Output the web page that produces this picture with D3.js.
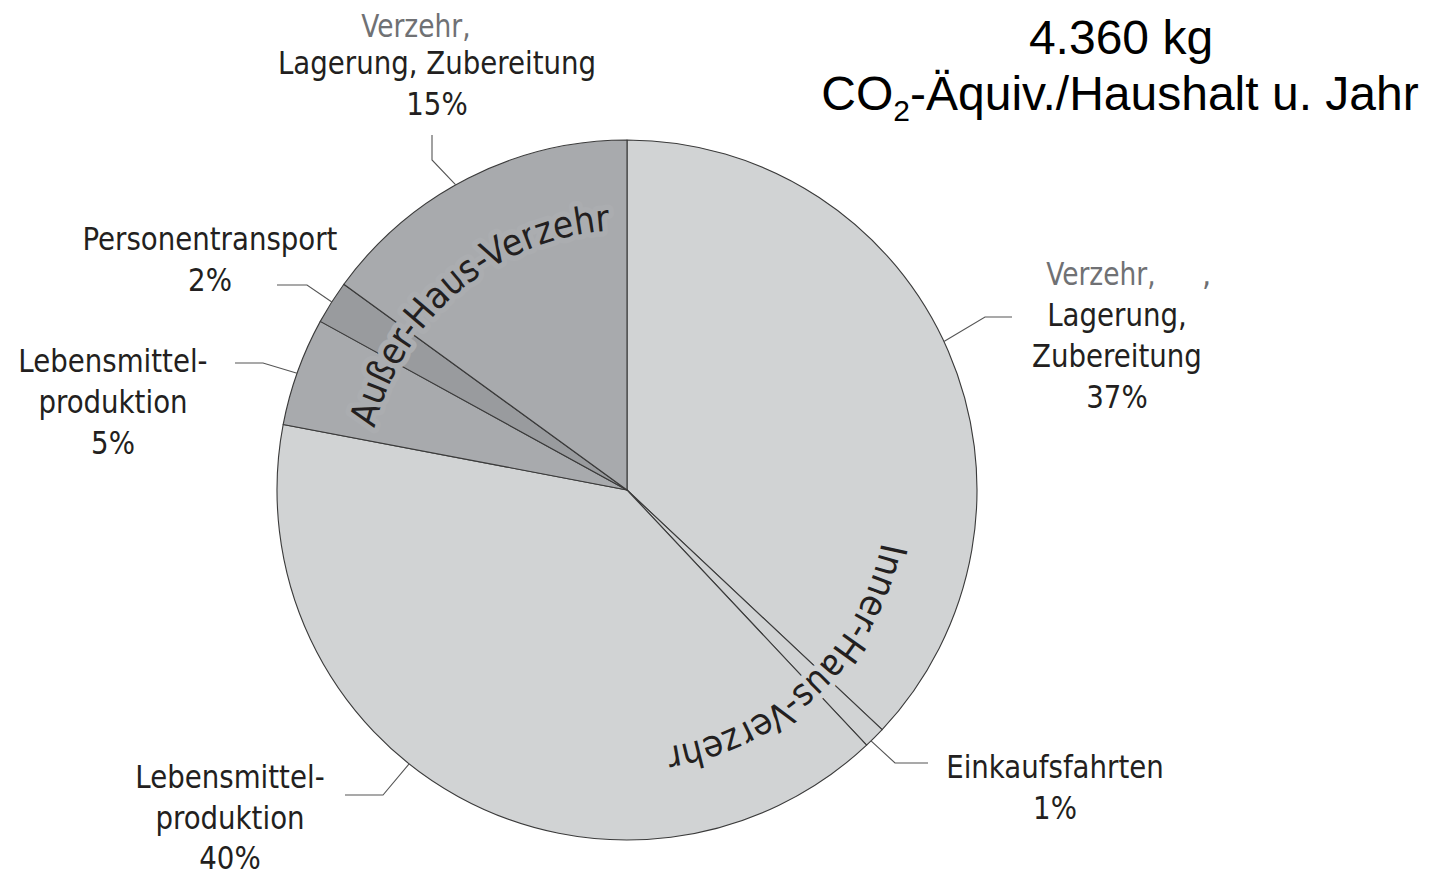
<!DOCTYPE html>
<html>
<head>
<meta charset="utf-8">
<script src="https://cdn.jsdelivr.net/npm/d3@7/dist/d3.min.js"></script>
<style>
  html, body { margin: 0; padding: 0; background: #fff; }
  svg { display: block; }
</style>
</head>
<body>
<svg id="chart" width="1438" height="875"></svg>
<script>
// ---- data ----
const categories = [
  "Verzehr, Lagerung, Zubereitung",
  "Einkaufsfahrten",
  "Lebensmittelproduktion",
  "Lebensmittelproduktion",
  "Personentransport",
  "Verzehr, Lagerung, Zubereitung"
];
const values = [37, 1, 40, 5, 2, 15];
const groupOf = ["Inner", "Inner", "Inner", "Außer", "Außer", "Außer"];
const groupNames = ["Inner-Haus-Verzehr", "Außer-Haus-Verzehr"];
const groupKeys = ["Inner", "Außer"];
const titleLines = ["4.360 kg", "CO|2|-Äquiv./Haushalt u. Jahr"];

// ---- layout ----
const W = 1438, H = 875;
const cx = 627, cy = 490, R = 350;
const fillFor = (i) => i === 4 ? "#999b9e" : (groupOf[i] === "Außer" ? "#a8aaad" : "#d1d3d4");
const labelFont = "'Liberation Sans Narrow', 'DejaVu Sans Condensed', 'Roboto Condensed', 'Liberation Sans', sans-serif";

const svg = d3.select("#chart");
const g = svg.append("g").attr("transform", `translate(${cx},${cy})`);

const pie = d3.pie().sort(null).value(d => d);
const arcs = pie(values);
const arcGen = d3.arc().innerRadius(0).outerRadius(R);

g.selectAll("path.slice")
  .data(arcs)
  .join("path")
  .attr("class", "slice")
  .attr("d", arcGen)
  .attr("fill", (d, i) => fillFor(i))
  .attr("stroke", "#3a3a3a")
  .attr("stroke-width", 1.1)
  .attr("stroke-linejoin", "round");

// ---- curved group labels ----
const textR = 260;
function arcPathClockwise(a0, a1, r) {
  const p0 = [r * Math.sin(a0), -r * Math.cos(a0)];
  const p1 = [r * Math.sin(a1), -r * Math.cos(a1)];
  return `M${p0[0]},${p0[1]} A${r},${r} 0 0 1 ${p1[0]},${p1[1]}`;
}
const deg = Math.PI / 180;
const groupMid = { Inner: 136.5, "Außer": 320 };
groupKeys.forEach((key, gi) => {
  const mid = groupMid[key] * deg;
  const id = "gpath" + gi;
  g.append("path").attr("id", id)
    .attr("d", arcPathClockwise(mid - 60 * deg, mid + 60 * deg, textR))
    .attr("fill", "none").attr("stroke", "none");
  g.append("text")
    .attr("font-family", labelFont)
    .attr("font-size", 37)
    .attr("fill", "#231f20")
    .attr("stroke", key === "Inner" ? "#d1d3d4" : "#abadb0")
    .attr("stroke-width", 11)
    .attr("stroke-linejoin", "round")
    .attr("paint-order", "stroke")
    .append("textPath")
    .attr("href", "#" + id)
    .attr("startOffset", "50%")
    .attr("text-anchor", "middle")
    .text(groupNames[gi]);
});

// ---- labels with leader lines ----
const labelLayout = [
  { angle: 64.9, elbow: [985, 317], end: [1012, 317], x: 1117, y: 326, lines: ["Lagerung,", "Zubereitung", "37%"], pre: { x: 1101, y: 285, t: "Verzehr," } },
  { angle: 135.8, elbow: [895, 763], end: [928, 763], x: 1055, y: 778, lines: ["Einkaufsfahrten", "1%"] },
  { angle: 218.5, elbow: [383, 795], end: [345, 795], x: 230, y: 788, lines: ["Lebensmittel-", "produktion", "40%"] },
  { angle: 289.5, elbow: [263, 363], end: [235, 363], x: 113, y: 372, lines: ["Lebensmittel-", "produktion", "5%"] },
  { angle: 302.5, elbow: [307, 285], end: [277, 285], x: 210, y: 250, lines: ["Personentransport", "2%"] },
  { angle: 330.7, elbow: [432, 160], end: [432, 135], x: 437, y: 74, lines: ["Lagerung, Zubereitung", "15%"], pre: { x: 416, y: 37, t: "Verzehr," } }
];
const lineGap = 41;
const sx = 0.96;
labelLayout.forEach((L, i) => {
  const a = L.angle * deg;
  const p = [cx + R * Math.sin(a), cy - R * Math.cos(a)];
  svg.append("polyline")
    .attr("points", [p, L.elbow, L.end].map(q => q.join(",")).join(" "))
    .attr("fill", "none").attr("stroke", "#555").attr("stroke-width", 1.1);
  const t = svg.append("text")
    .attr("font-family", labelFont)
    .attr("font-size", 32)
    .attr("fill", "#231f20")
    .attr("text-anchor", "middle")
    .attr("transform", `translate(${L.x},0) scale(${sx},1) translate(${-L.x},0)`);
  L.lines.forEach((s, k) => {
    t.append("tspan").attr("x", L.x).attr("y", Math.min(L.y + k * lineGap, 869)).text(s);
  });
  if (L.pre) {
    svg.append("text")
      .attr("font-family", labelFont)
      .attr("font-size", 32)
      .attr("fill", "#707174")
      .attr("text-anchor", "middle")
      .attr("transform", `translate(${L.pre.x},0) scale(0.92,1) translate(${-L.pre.x},0)`)
      .attr("x", L.pre.x).attr("y", L.pre.y)
      .text(L.pre.t);
  }
});
// stray comma artifact on the right label
svg.append("text").attr("font-family", labelFont).attr("font-size", 32)
  .attr("fill", "#6d6e71").attr("x", 1202).attr("y", 285).text(",");

// ---- title ----
const titleFont = "'Liberation Sans', Arial, sans-serif";
svg.append("text").attr("font-family", titleFont).attr("font-size", 48)
  .attr("fill", "#000").attr("text-anchor", "middle")
  .attr("x", 1121).attr("y", 54).text(titleLines[0]);
const t2 = svg.append("text").attr("font-family", titleFont).attr("font-size", 48)
  .attr("fill", "#000").attr("text-anchor", "middle")
  .attr("x", 1120).attr("y", 110);
const parts = titleLines[1].split("|");
t2.append("tspan").text(parts[0]);
t2.append("tspan").attr("font-size", 30).attr("dy", 11).text(parts[1]);
t2.append("tspan").attr("dy", -11).text(parts[2]);
</script>
</body>
</html>
